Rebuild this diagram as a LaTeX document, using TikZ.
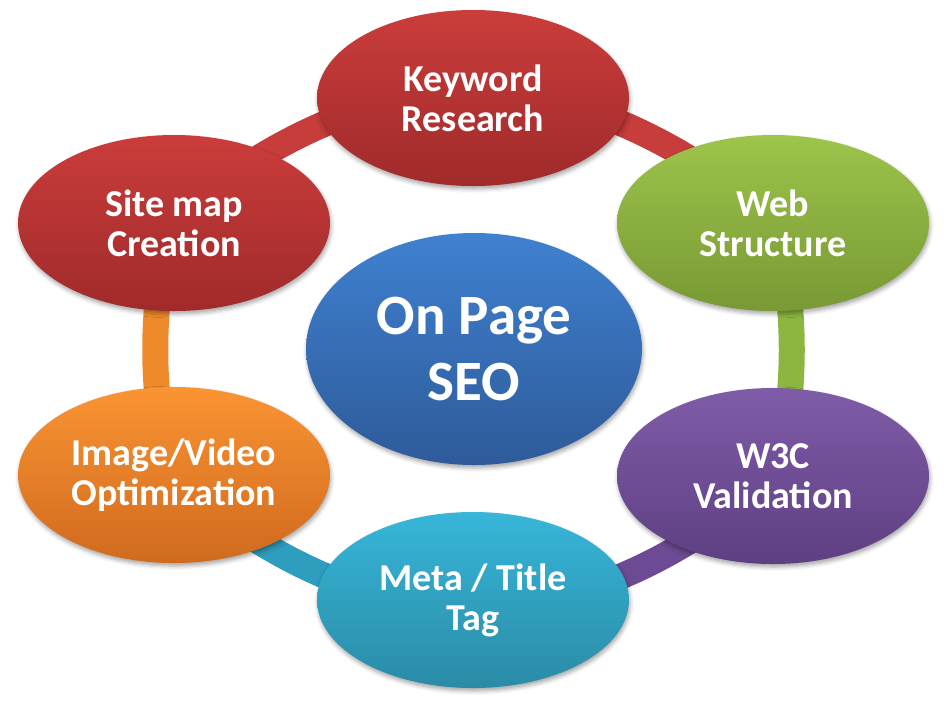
\documentclass[tikz,border=0pt]{standalone}
\usepackage{fontspec}
\setmainfont{Carlito}
\usetikzlibrary{shapes.geometric,shadows.blur,backgrounds}
\definecolor{redT}{HTML}{CA3D3B}
\definecolor{redB}{HTML}{A02A2B}
\definecolor{greenT}{HTML}{9DC44B}
\definecolor{greenB}{HTML}{789934}
\definecolor{purpleT}{HTML}{7F5CA8}
\definecolor{purpleB}{HTML}{5E3F82}
\definecolor{tealT}{HTML}{37B6D9}
\definecolor{tealB}{HTML}{2A8BA6}
\definecolor{orangeT}{HTML}{FA9433}
\definecolor{orangeB}{HTML}{D06A1E}
\definecolor{blueT}{HTML}{3F81D0}
\definecolor{blueB}{HTML}{2E5A99}
\definecolor{ringRed}{HTML}{C63D3B}
\definecolor{ringGreen}{HTML}{8DB640}
\definecolor{ringPurple}{HTML}{6C4B94}
\definecolor{ringTeal}{HTML}{2F9EBE}
\definecolor{ringOrange}{HTML}{EE8A2C}
\begin{document}
\begin{tikzpicture}[x=1pt,y=-1pt,
  bub/.style={ellipse, minimum width=312pt, minimum height=176pt, inner sep=0pt,
    align=center, text=white, font=\bfseries\fontsize{38}{40}\selectfont,
    blur shadow={shadow xshift=1pt, shadow yshift=-3pt, shadow blur radius=4pt, shadow opacity=35}},
  bubred/.style={bub, top color=redT, bottom color=redB},
  bubgreen/.style={bub, top color=greenT, bottom color=greenB},
  bubpurple/.style={bub, top color=purpleT, bottom color=purpleB},
  bubteal/.style={bub, top color=tealT, bottom color=tealB},
  buborange/.style={bub, top color=orangeT, bottom color=orangeB},
  hub/.style={bub, minimum width=336pt, minimum height=232pt,
    font=\bfseries\fontsize{57}{66}\selectfont, top color=blueT, bottom color=blueB},
  ringseg/.style={line width=26pt, draw=#1}
]
\useasboundingbox (0,0) rectangle (944,705);
\node[hub] (hub) at (474,349) {On Page\\SEO};
\node[bubred] (kw) at (473,98) {Keyword\\Research};
\node[bubgreen] (web) at (773,223) {Web\\Structure};
\node[bubpurple] (w3c) at (773,476) {W3C\\Validation};
\node[bubteal] (meta) at (473,600) {Meta / Title\\Tag};
\node[buborange] (img) at (174,475) {Image/Video\\Optimization};
\node[bubred] (site) at (174,223) {Site map\\Creation};
\begin{scope}[on background layer]
\draw[ringseg=ringRed] (kw.center) .. controls (560,80) and (700,150) .. (web.center);
\draw[ringseg=ringGreen] (web.center) .. controls (798,290) and (798,410) .. (w3c.center);
\draw[ringseg=ringPurple] (w3c.center) .. controls (700,550) and (560,620) .. (meta.center);
\draw[ringseg=ringTeal] (meta.center) .. controls (387,620) and (247,550) .. (img.center);
\draw[ringseg=ringOrange] (img.center) .. controls (149,410) and (149,290) .. (site.center);
\draw[ringseg=ringRed] (site.center) .. controls (247,150) and (387,80) .. (kw.center);
\end{scope}
\end{tikzpicture}
\end{document}
